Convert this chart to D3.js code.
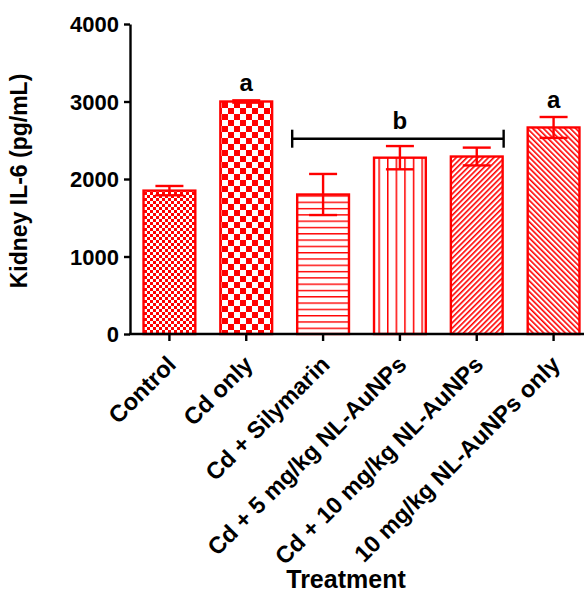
<!DOCTYPE html>
<html>
<head>
<meta charset="utf-8">
<script src="https://cdn.jsdelivr.net/npm/d3@7"></script>
<style>
    body { margin: 0; background: #fff; }
    svg { display: block; font-family: Arial, "Liberation Sans", sans-serif; font-weight: bold; }
</style>
</head>
<body>
<svg id="chart"></svg>
<script>
// Chart data
var categories = ["Control", "Cd only", "Cd + Silymarin", "Cd + 5 mg/kg NL-AuNPs", "Cd + 10 mg/kg NL-AuNPs", "10 mg/kg NL-AuNPs only"];
var means = [1850, 3000, 1800, 2275, 2290, 2665];
var errors = [60, 15, 265, 150, 115, 135];
var sigLabels = ["", "a", "", "", "", "a"];
var patterns = ["checkFine", "checkBig", "hLines", "vLines", "diagUp", "diagDown"];
var yTicks = [0, 1000, 2000, 3000, 4000];
var bracketValue = 2520;
var bracketLabel = "b";

function drawChart() {
    var width = 584,
        height = 592,
        red = "#ff0000",
        fontFamily = "Arial, 'Liberation Sans', sans-serif";

    var svg = d3.select("#chart")
        .attr("width", width)
        .attr("height", height);

    // Scales
    var x = d3.scaleBand()
        .domain(categories)
        .range([131, 592])
        .paddingInner(0.3)
        .paddingOuter(0.15);

    var y = d3.scaleLinear()
        .domain([0, 4000])
        .range([334, 24]);

    // Fill patterns for the bars
    var defs = svg.append("defs");

    var p = defs.append("pattern").attr("id", "checkFine")
        .attr("patternUnits", "userSpaceOnUse").attr("width", 6).attr("height", 6);
    p.append("rect").attr("width", 6).attr("height", 6).attr("fill", "#fff");
    p.append("rect").attr("width", 3).attr("height", 3).attr("fill", red);
    p.append("rect").attr("x", 3).attr("y", 3).attr("width", 3).attr("height", 3).attr("fill", red);

    p = defs.append("pattern").attr("id", "checkBig")
        .attr("patternUnits", "userSpaceOnUse").attr("width", 12).attr("height", 12);
    p.append("rect").attr("width", 12).attr("height", 12).attr("fill", "#fff");
    p.append("rect").attr("width", 6).attr("height", 6).attr("fill", red);
    p.append("rect").attr("x", 6).attr("y", 6).attr("width", 6).attr("height", 6).attr("fill", red);

    p = defs.append("pattern").attr("id", "hLines")
        .attr("patternUnits", "userSpaceOnUse").attr("width", 10).attr("height", 6.3);
    p.append("rect").attr("width", 10).attr("height", 6.3).attr("fill", "#fff");
    p.append("rect").attr("y", 0).attr("width", 10).attr("height", 1.4).attr("fill", red);

    p = defs.append("pattern").attr("id", "vLines")
        .attr("patternUnits", "userSpaceOnUse").attr("width", 8.6).attr("height", 10);
    p.append("rect").attr("width", 8.6).attr("height", 10).attr("fill", "#fff");
    p.append("rect").attr("x", 0).attr("width", 1.5).attr("height", 10).attr("fill", red);

    p = defs.append("pattern").attr("id", "diagUp")
        .attr("patternUnits", "userSpaceOnUse").attr("width", 3.8).attr("height", 3.8)
        .attr("patternTransform", "rotate(45)");
    p.append("rect").attr("width", 3.8).attr("height", 3.8).attr("fill", "#fff");
    p.append("rect").attr("width", 1.6).attr("height", 3.8).attr("fill", red);

    p = defs.append("pattern").attr("id", "diagDown")
        .attr("patternUnits", "userSpaceOnUse").attr("width", 3.8).attr("height", 3.8)
        .attr("patternTransform", "rotate(-45)");
    p.append("rect").attr("width", 3.8).attr("height", 3.8).attr("fill", "#fff");
    p.append("rect").attr("width", 1.6).attr("height", 3.8).attr("fill", red);

    // Bars
    var bw = x.bandwidth();
    svg.selectAll(".bar")
        .data(categories)
        .enter().append("rect")
        .attr("class", "bar")
        .attr("x", function (d) { return x(d) + 1; })
        .attr("y", function (d, i) { return y(means[i]); })
        .attr("width", bw - 2)
        .attr("height", function (d, i) { return y(0) - y(means[i]); })
        .attr("fill", function (d, i) { return "url(#" + patterns[i] + ")"; })
        .attr("stroke", red)
        .attr("stroke-width", 2.4);

    // Error bars
    var capW = 14;
    var err = svg.selectAll(".err")
        .data(categories)
        .enter().append("g")
        .attr("class", "err")
        .attr("stroke", red)
        .attr("stroke-width", 2.4);

    err.append("line")
        .attr("x1", function (d) { return x(d) + bw / 2; })
        .attr("x2", function (d) { return x(d) + bw / 2; })
        .attr("y1", function (d, i) { return y(means[i] + errors[i]); })
        .attr("y2", function (d, i) { return y(means[i] - errors[i]); });

    err.append("line")
        .attr("x1", function (d) { return x(d) + bw / 2 - capW; })
        .attr("x2", function (d) { return x(d) + bw / 2 + capW; })
        .attr("y1", function (d, i) { return y(means[i] + errors[i]); })
        .attr("y2", function (d, i) { return y(means[i] + errors[i]); });

    err.append("line")
        .attr("x1", function (d) { return x(d) + bw / 2 - capW; })
        .attr("x2", function (d) { return x(d) + bw / 2 + capW; })
        .attr("y1", function (d, i) { return y(means[i] - errors[i]); })
        .attr("y2", function (d, i) { return y(means[i] - errors[i]); });

    // Significance letters
    svg.selectAll(".sig")
        .data(categories)
        .enter().append("text")
        .attr("class", "sig")
        .attr("x", function (d) { return x(d) + bw / 2; })
        .attr("y", function (d, i) { return y(means[i] + errors[i]) - 9; })
        .attr("text-anchor", "middle")
        .style("font-size", "24px")
        .text(function (d, i) { return sigLabels[i]; });

    // Bracket over groups 3-5
    var bx1 = x(categories[2]) - 4,
        bx2 = x(categories[4]) + bw,
        by = y(bracketValue);
    var br = svg.append("g").attr("stroke", "#000").attr("stroke-width", 2.4);
    br.append("line").attr("x1", bx1).attr("x2", bx2).attr("y1", by).attr("y2", by);
    br.append("line").attr("x1", bx1).attr("x2", bx1).attr("y1", by - 9).attr("y2", by + 9);
    br.append("line").attr("x1", bx2).attr("x2", bx2).attr("y1", by - 9).attr("y2", by + 9);
    svg.append("text")
        .attr("x", x(categories[3]) + bw / 2)
        .attr("y", by - 10)
        .attr("text-anchor", "middle")
        .style("font-size", "24px")
        .text(bracketLabel);

    // Y axis
    var yAxis = svg.append("g")
        .attr("transform", "translate(130,0)")
        .call(d3.axisLeft(y).tickValues(yTicks).tickFormat(d3.format("d")).tickSize(6).tickSizeOuter(0).tickPadding(5));
    yAxis.selectAll("path, line").attr("stroke", "#000").attr("stroke-width", 2.4);
    yAxis.selectAll("text")
        .attr("fill", "#000")
        .style("font-size", "22px")
        .style("font-weight", "bold")
        .style("font-family", fontFamily)
        .attr("dy", "0.36em");

    // X axis
    var xAxis = svg.append("g")
        .attr("transform", "translate(0,334)")
        .call(d3.axisBottom(x).tickSize(7).tickSizeOuter(0));
    xAxis.select(".domain").attr("d", "M129,0H584");
    xAxis.selectAll("path, line").attr("stroke", "#000").attr("stroke-width", 2.4);
    xAxis.selectAll("text")
        .attr("fill", "#000")
        .style("font-size", "23.5px")
        .style("font-weight", "bold")
        .style("font-family", fontFamily)
        .attr("text-anchor", "end")
        .attr("dy", "0")
        .attr("y", 0)
        .attr("transform", "translate(8,32) rotate(-45)");

    // Axis titles
    svg.append("text")
        .attr("x", 346)
        .attr("y", 588)
        .attr("text-anchor", "middle")
        .style("font-size", "25px")
        .text("Treatment");

    svg.append("text")
        .attr("transform", "translate(27,181) rotate(-90)")
        .attr("text-anchor", "middle")
        .style("font-size", "23px")
        .text("Kidney IL-6 (pg/mL)");
}

drawChart();
</script>
</body>
</html>
